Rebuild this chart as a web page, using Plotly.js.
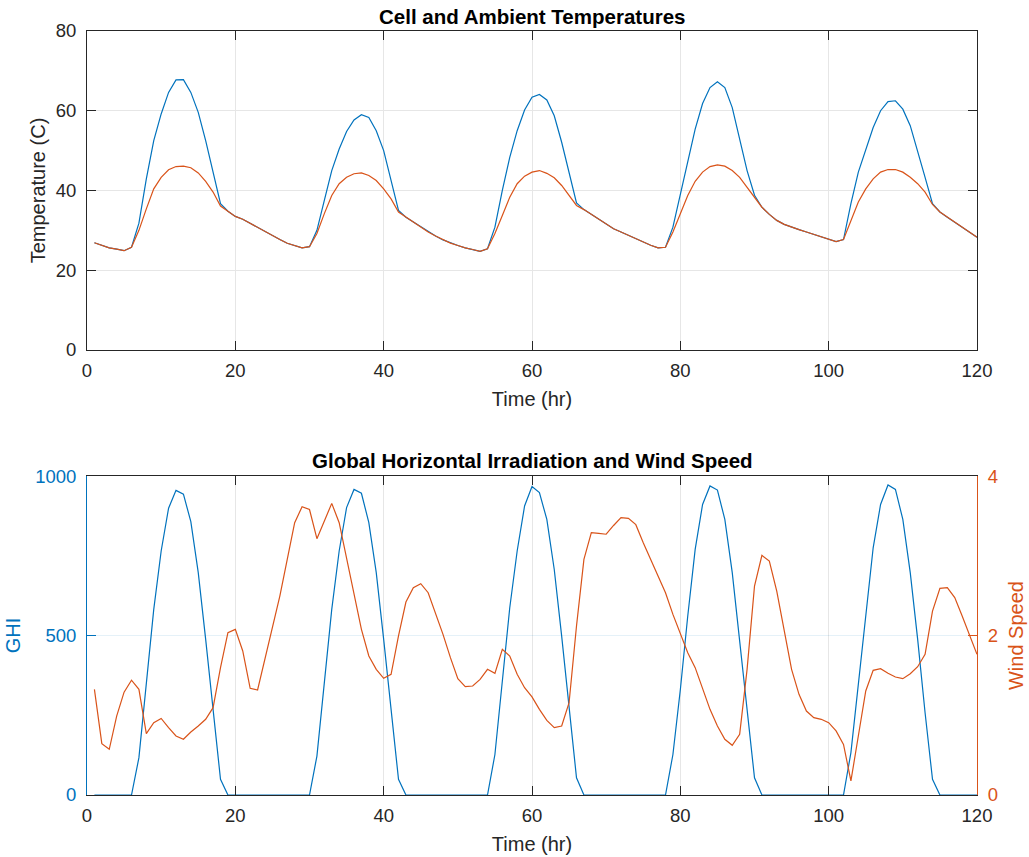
<!DOCTYPE html>
<html>
<head>
<meta charset="utf-8">
<script src="https://cdn.plot.ly/plotly-3.0.1.min.js"></script>
<style>html,body{margin:0;padding:0;background:#fff;}#chart{width:1029px;height:857px;}</style>
</head>
<body>
<div id="chart"></div>
<script>
// Hours (x axis)
var hours = [1,2,3,4,5,6,7,8,9,10,11,12,13,14,15,16,17,18,19,20,
  21,22,23,24,25,26,27,28,29,30,31,32,33,34,35,36,37,38,39,40,
  41,42,43,44,45,46,47,48,49,50,51,52,53,54,55,56,57,58,59,60,
  61,62,63,64,65,66,67,68,69,70,71,72,73,74,75,76,77,78,79,80,
  81,82,83,84,85,86,87,88,89,90,91,92,93,94,95,96,97,98,99,100,
  101,102,103,104,105,106,107,108,109,110,111,112,113,114,115,116,117,118,119,120];

// Cell temperature (C)
var cellTemp = [26.9,26.2,25.6,25.3,24.9,25.75,31.8,42.9,52.5,59.2,
  64.6,67.75,67.8,64.6,59.6,52.5,44.2,36.7,34.8,33.5,
  32.8,31.75,30.7,29.7,28.7,27.7,26.75,26.2,25.6,25.9,
  30,37.5,45,50.4,54.8,57.7,59,58.3,55,50,
  42.5,35,33.3,32.1,30.8,29.6,28.6,27.6,26.8,26.2,
  25.6,25.2,24.75,25.4,30.8,40,48.3,55,60.2,63.4,
  64.1,62.7,58.75,52.1,44.6,36.9,35.2,34,32.7,31.4,
  30.4,29.6,28.75,27.9,27.1,26.25,25.6,25.75,30.8,39.2,
  47.5,55.4,61.8,65.8,67.25,65.8,60.8,52.5,45,38.8,
  35.8,34,32.5,31.5,30.8,30.2,29.6,29,28.4,27.8,
  27.2,27.7,36.7,44.6,50.4,55.8,60,62.3,62.5,60.4,
  56.25,50,43.3,36.7,34.6,33.3,32.1,30.8,29.6,28.3];

// Ambient temperature (C)
var ambientTemp = [26.9,26.2,25.6,25.3,24.9,25.75,30,35.4,40.4,43.3,
  45.2,46,46.1,45.7,44.4,42.3,39.6,36.1,34.8,33.5,
  32.8,31.75,30.7,29.7,28.7,27.7,26.75,26.2,25.6,25.9,
  29.2,34.2,38.75,41.7,43.3,44.2,44.4,43.75,42.5,40.4,
  37.9,34.6,33.3,32.1,30.8,29.6,28.6,27.6,26.8,26.2,
  25.6,25.2,24.75,25.4,29.2,33.75,38.3,41.7,43.6,44.6,
  45,44.3,43.2,41.25,38.75,36.25,35.2,34,32.7,31.4,
  30.4,29.6,28.75,27.9,27.1,26.25,25.6,25.75,29.6,34.2,
  38.75,42.3,44.6,46,46.4,46.1,45,43.3,40.8,38.3,
  35.8,34,32.5,31.5,30.8,30.2,29.6,29,28.4,27.8,
  27.2,27.7,32.5,37.1,40.4,42.9,44.6,45.25,45.25,44.6,
  43.3,41.7,39.6,36.5,34.6,33.3,32.1,30.8,29.6,28.3];

// Global horizontal irradiation
var ghi = [0,0,0,0,0,0,117,352,582,765,
  899,955,943,857,697,488,268,49,0,0,
  0,0,0,0,0,0,0,0,0,0,
  122,342,582,765,901,958,946,854,697,488,
  263,49,0,0,0,0,0,0,0,0,
  0,0,0,0,127,352,587,765,906,967,
  948,864,707,498,274,54,0,0,0,0,
  0,0,0,0,0,0,0,0,127,330,
  561,770,911,969,956,864,697,483,248,54,
  0,0,0,0,0,0,0,0,0,0,
  0,0,133,342,561,775,911,972,958,864,
  697,488,258,49,0,0,0,0,0,0];

// Wind speed
var windSpeed = [1.325,0.644,0.573,0.99,1.29,1.44,1.325,0.77,0.907,0.96,
  0.845,0.74,0.70,0.79,0.865,0.95,1.095,1.597,2.035,2.077,
  1.806,1.338,1.317,1.70,2.077,2.495,2.955,3.415,3.615,3.58,
  3.214,3.436,3.657,3.415,2.955,2.495,2.077,1.743,1.576,1.463,
  1.513,1.994,2.42,2.6,2.65,2.537,2.286,2.015,1.722,1.459,
  1.358,1.367,1.45,1.576,1.526,1.827,1.743,1.513,1.346,1.23,
  1.074,0.936,0.844,0.865,1.158,2.119,2.955,3.29,3.28,3.27,
  3.38,3.478,3.47,3.39,3.164,2.955,2.767,2.537,2.265,2.015,
  1.785,1.597,1.325,1.074,0.865,0.698,0.623,0.761,1.576,2.621,
  3.005,2.934,2.558,2.056,1.576,1.262,1.053,0.97,0.949,0.907,
  0.803,0.635,0.176,0.74,1.304,1.563,1.584,1.526,1.48,1.459,
  1.521,1.609,1.764,2.307,2.592,2.6,2.475,2.244,2.015,1.764];

var xTicks = [0,20,40,60,80,100,120];
var tempTicks = [0,20,40,60,80];
var ghiTicks = [0,500,1000];
var windTicks = [0,2,4];

var BLUE = '#0072BD', ORANGE = '#D95319', AX = '#262626', GRID = '#e6e6e6';
var FONT = 'Liberation Sans, Arial, Helvetica, sans-serif';
var TICK = 18.5, LAB = 20, TITLE = 20.5;

var traces = [
  {x: hours, y: cellTemp, type: 'scatter', mode: 'lines', name: 'Cell', line: {color: BLUE, width: 1.2}, xaxis: 'x', yaxis: 'y'},
  {x: hours, y: ambientTemp, type: 'scatter', mode: 'lines', name: 'Ambient', line: {color: ORANGE, width: 1.2}, xaxis: 'x', yaxis: 'y'},
  {x: hours, y: ghi, type: 'scatter', mode: 'lines', name: 'GHI', line: {color: BLUE, width: 1.2}, xaxis: 'x2', yaxis: 'y2'},
  {x: hours, y: windSpeed, type: 'scatter', mode: 'lines', name: 'Wind Speed', line: {color: ORANGE, width: 1.2}, xaxis: 'x2', yaxis: 'y3'}
];

function xAxis(anchor) {
  return {
    anchor: anchor, domain: [0, 1], range: [0, 120],
    tickvals: xTicks, ticks: 'inside', ticklen: 9, tickcolor: AX, tickwidth: 1,
    showline: true, linecolor: AX, linewidth: 1, mirror: 'ticks',
    showgrid: true, gridcolor: GRID, zeroline: false,
    tickfont: {size: TICK, color: AX, family: FONT}, ticklabelstandoff: 4,
    title: {text: 'Time (hr)', font: {size: LAB, color: AX, family: FONT}, standoff: 11}
  };
}

var layout = {
  width: 1029, height: 857,
  paper_bgcolor: '#ffffff', plot_bgcolor: '#ffffff',
  margin: {l: 87, r: 52, t: 31, b: 62},
  showlegend: false,
  font: {family: FONT, size: TICK, color: AX},
  xaxis: xAxis('y'),
  yaxis: {
    anchor: 'x', domain: [0.5825, 1], range: [0, 80],
    tickvals: tempTicks, ticks: 'inside', ticklen: 9, tickcolor: AX,
    showline: true, linecolor: AX, linewidth: 1, mirror: 'ticks',
    showgrid: true, gridcolor: GRID, zeroline: false,
    tickfont: {size: TICK, color: AX, family: FONT}, ticklabelstandoff: 6,
    title: {text: 'Temperature (C)', font: {size: LAB, color: AX, family: FONT}, standoff: 4}
  },
  xaxis2: xAxis('y2'),
  yaxis2: {
    anchor: 'x2', domain: [0, 0.4175], range: [0, 1000],
    tickvals: ghiTicks, ticks: 'inside', ticklen: 9, tickcolor: BLUE,
    showline: true, linecolor: BLUE, linewidth: 1, mirror: false,
    showgrid: true, gridcolor: 'rgba(0,114,189,0.10)', zeroline: false,
    tickfont: {size: TICK, color: BLUE, family: FONT}, ticklabelstandoff: 6,
    title: {text: 'GHI', font: {size: LAB, color: BLUE, family: FONT}, standoff: 9}
  },
  yaxis3: {
    anchor: 'x2', overlaying: 'y2', side: 'right', range: [0, 4],
    tickvals: windTicks, ticks: 'inside', ticklen: 9, tickcolor: ORANGE,
    showline: true, linecolor: ORANGE, linewidth: 1,
    showgrid: false, zeroline: false,
    tickfont: {size: TICK, color: ORANGE, family: FONT}, ticklabelstandoff: 6,
    title: {text: 'Wind Speed', font: {size: LAB, color: ORANGE, family: FONT}, standoff: 12}
  },
  annotations: [
    {text: '<b>Cell and Ambient Temperatures</b>', xref: 'paper', yref: 'paper', x: 0.5, y: 1.0196,
     xanchor: 'center', yanchor: 'middle', showarrow: false, font: {size: TITLE, color: '#000', family: FONT}},
    {text: '<b>Global Horizontal Irradiation and Wind Speed</b>', xref: 'paper', yref: 'paper', x: 0.5, y: 0.4372,
     xanchor: 'center', yanchor: 'middle', showarrow: false, font: {size: TITLE, color: '#000', family: FONT}}
  ]
};

Plotly.newPlot('chart', traces, layout, {displayModeBar: false, staticPlot: true});
</script>
</body>
</html>
